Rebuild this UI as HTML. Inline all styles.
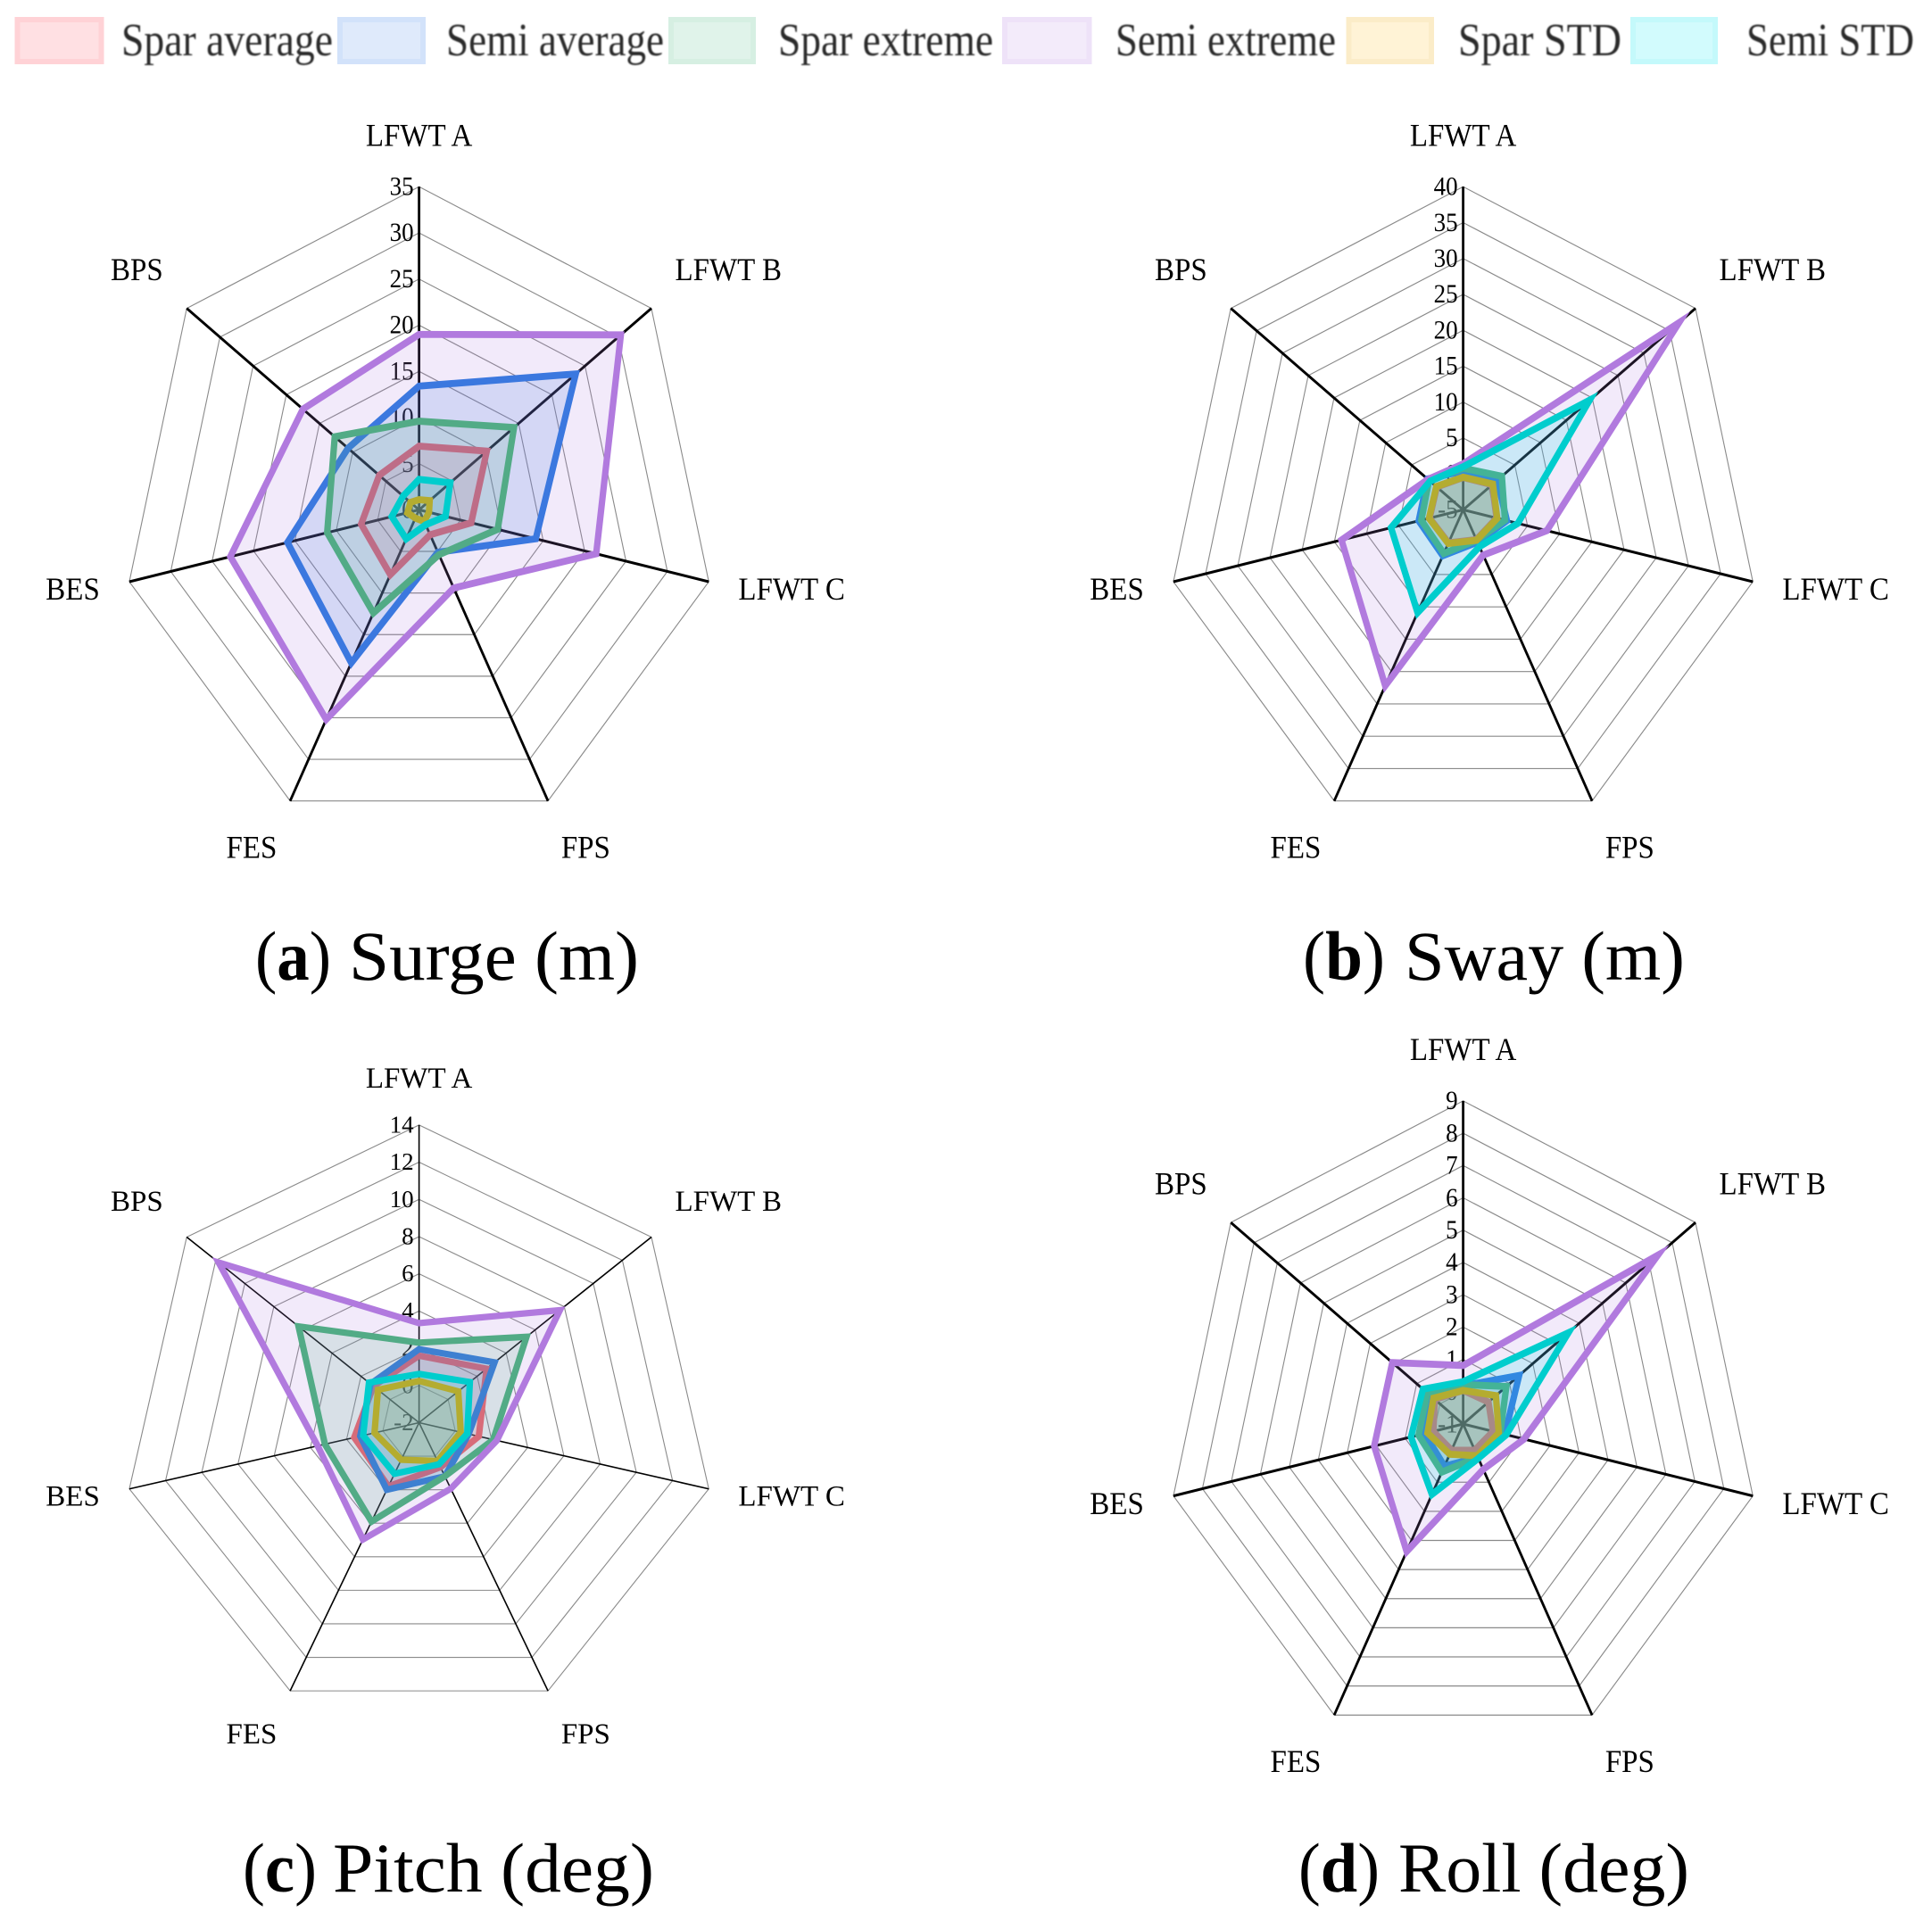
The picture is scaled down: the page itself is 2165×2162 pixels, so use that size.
<!DOCTYPE html>
<html lang="en">
<head>
<meta charset="utf-8">
<title>Radar charts of surge, sway, pitch and roll</title>
<style>
html,body{margin:0;padding:0;background:#fff;}
body{width:2165px;height:2162px;overflow:hidden;}
svg{display:block;font-family:"Liberation Serif",serif;}
.legend-text{font-size:52px;fill:#2a2a2a;filter:url(#soft);}
.caption{font-size:78px;fill:#000;}
</style>
</head>
<body>
<svg id="root" xmlns="http://www.w3.org/2000/svg" width="2165" height="2162" viewBox="0 0 2165 2162">
<defs><filter id="soft" x="-5%" y="-20%" width="110%" height="140%"><feGaussianBlur stdDeviation="0.7"/></filter></defs>
<g>
  <g>
    <rect x="19.5" y="22" width="94" height="47" fill="#ffe0e3" stroke="#ffd2d6" stroke-width="6"/>
    <text class="legend-text" x="136" y="62" textLength="237" lengthAdjust="spacingAndGlyphs">Spar average</text>
  </g>
  <g>
    <rect x="381" y="22" width="93" height="47" fill="#dfeafb" stroke="#d2e2fa" stroke-width="6"/>
    <text class="legend-text" x="500" y="62" textLength="244" lengthAdjust="spacingAndGlyphs">Semi average</text>
  </g>
  <g>
    <rect x="752" y="22" width="92" height="47" fill="#e0f3ea" stroke="#d6efe2" stroke-width="6"/>
    <text class="legend-text" x="872" y="62" textLength="241" lengthAdjust="spacingAndGlyphs">Spar extreme</text>
  </g>
  <g>
    <rect x="1126" y="22" width="94.5" height="47" fill="#f3ebfa" stroke="#eee2f8" stroke-width="6"/>
    <text class="legend-text" x="1250" y="62" textLength="247" lengthAdjust="spacingAndGlyphs">Semi extreme</text>
  </g>
  <g>
    <rect x="1511.5" y="22" width="92.5" height="47" fill="#fff3d6" stroke="#fbecc8" stroke-width="6"/>
    <text class="legend-text" x="1634" y="62" textLength="183" lengthAdjust="spacingAndGlyphs">Spar STD</text>
  </g>
  <g>
    <rect x="1830" y="22" width="92" height="47" fill="#d2fbfd" stroke="#c4f9fb" stroke-width="6"/>
    <text class="legend-text" x="1957" y="62" textLength="188" lengthAdjust="spacingAndGlyphs">Semi STD</text>
  </g>
</g>
<g id="charts"></g>
<g>
  <text class="caption" x="286" y="1098" textLength="85" lengthAdjust="spacingAndGlyphs">(<tspan font-weight="bold">a</tspan>)</text>
  <text class="caption" x="391" y="1098" textLength="325" lengthAdjust="spacingAndGlyphs">Surge (m)</text>
</g>
<g>
  <text class="caption" x="1460" y="1098" textLength="92" lengthAdjust="spacingAndGlyphs">(<tspan font-weight="bold">b</tspan>)</text>
  <text class="caption" x="1574" y="1098" textLength="314" lengthAdjust="spacingAndGlyphs">Sway (m)</text>
</g>
<g>
  <text class="caption" x="272" y="2120" textLength="83" lengthAdjust="spacingAndGlyphs">(<tspan font-weight="bold">c</tspan>)</text>
  <text class="caption" x="373" y="2120" textLength="360" lengthAdjust="spacingAndGlyphs">Pitch (deg)</text>
</g>
<g>
  <text class="caption" x="1455" y="2120" textLength="91" lengthAdjust="spacingAndGlyphs">(<tspan font-weight="bold">d</tspan>)</text>
  <text class="caption" x="1567" y="2120" textLength="326" lengthAdjust="spacingAndGlyphs">Roll (deg)</text>
</g>
</svg>
<script>
// Shared categories
const categories = ['LFWT A', 'LFWT B', 'LFWT C', 'FPS', 'FES', 'BES', 'BPS'];
const seriesNames = ['Spar average', 'Semi average', 'Spar extreme', 'Semi extreme', 'Spar STD', 'Semi STD'];

// Tick labels (outermost first)
const surgeTicks = [35, 30, 25, 20, 15, 10, 5, 0];
const swayTicks = [40, 35, 30, 25, 20, 15, 10, 5, 0, -5];
const pitchTicks = [14, 12, 10, 8, 6, 4, 2, 0, -2];
const rollTicks = [9, 8, 7, 6, 5, 4, 3, 2, 1, 0, -1];

// Surge (m)
const surgeSparAverage = [6.9, 10.2, 6.3, 3.0, 7.8, 7.0, 6.0];
const surgeSemiAverage = [13.4, 23.6, 14.1, 5.1, 18.4, 15.9, 10.7];
const surgeSparExtreme = [9.6, 14.3, 9.5, 5.4, 12.4, 11.1, 12.7];
const surgeSemiExtreme = [19.0, 30.4, 21.4, 9.4, 25.2, 22.8, 17.5];
const surgeSparStd = [1.1, 1.6, 1.2, 1.4, 1.0, 1.4, 1.3];
const surgeSemiStd = [3.3, 4.7, 3.2, 1.8, 3.5, 3.3, 2.4];

// Sway (m)
const swaySparAverage = [-0.5, 0.6, 0.2, -0.4, 0.1, 0.2, 0.1];
const swaySemiAverage = [0.4, 1.6, 1.8, 0.0, 2.1, 1.9, 1.9];
const swaySparExtreme = [0.8, 2.5, 1.5, -0.3, 1.75, 1.5, 1.6];
const swaySemiExtreme = [1.4, 36.8, 8.0, 2.0, 22.2, 13.9, 1.8];
const swaySparStd = [-0.45, 0.76, 0.3, -0.3, 0.2, 0.3, 0.2];
const swaySemiStd = [1.0, 19.5, 3.5, 0.7, 10.9, 6.2, 1.4];

// Pitch (deg)
const pitchSparAverage = [1.6, 2.65, 1.3, 0.66, 1.8, 1.58, 1.14];
const pitchSemiAverage = [1.95, 3.2, 0.74, 1.2, 2.0, 1.25, 1.34];
const pitchSparExtreme = [2.3, 5.4, 2.1, 1.2, 3.9, 3.2, 6.3];
const pitchSemiExtreme = [3.35, 7.7, 2.3, 1.94, 4.97, 3.6, 11.8];
const pitchSparStd = [0.24, 0.7, 0.3, 0.29, 0.21, 0.46, 0.83];
const pitchSemiStd = [0.62, 1.5, 0.66, 0.48, 1.05, 1.09, 1.45];

// Roll (deg)
const rollSparAverage = [0.04, 0.09, 0.03, -0.1, -0.1, 0.03, 0.22];
const rollSemiAverage = [0.18, 1.41, 0.44, 0.15, 0.45, 0.33, 0.41];
const rollSparExtreme = [0.22, 0.86, 0.28, 0.15, 0.65, 0.54, 0.54];
const rollSemiExtreme = [0.81, 7.38, 1.1, 0.56, 3.38, 2.07, 2.05];
const rollSparStd = [0.04, 0.41, 0.23, 0.09, 0.04, 0.23, 0.28];
const rollSemiStd = [0.31, 3.53, 0.49, 0.18, 1.42, 0.8, 0.73];

const SVG_NS = 'http://www.w3.org/2000/svg';
const RADIUS = 333;
const lineColors = ['rgb(255,90,100)', 'rgb(38,120,223)', 'rgb(65,180,117)', 'rgb(177,122,222)', 'rgb(215,162,13)', 'rgb(0,205,205)'];
const fillColors = ['rgba(255,90,100,.16)', 'rgba(38,120,223,.16)', 'rgba(65,180,117,.16)', 'rgba(177,122,222,.16)', 'rgba(255,188,27,.16)', 'rgba(0,225,235,.16)'];

function make(tag, parent, attrs) {
  const el = document.createElementNS(SVG_NS, tag);
  for (const k in attrs) el.setAttribute(k, attrs[k]);
  parent.appendChild(el);
  return el;
}
function spokeAngle(i) { return i * 2 * Math.PI / categories.length; }
function radial(value, lo, hi) { return RADIUS * (value - lo) / (hi - lo); }
function pointAt(i, r) {
  const a = spokeAngle(i);
  return [r * Math.sin(a), -r * Math.cos(a)];
}
function polyPoints(values, lo, hi) {
  return values.map((v, i) => pointAt(i, radial(v, lo, hi)).map(n => n.toFixed(2)).join(',')).join(' ');
}

function drawChart(key, cx, cy, sy, ticks, seriesList, spokeWidth) {
  const hi = Math.max.apply(null, ticks);
  const lo = Math.min.apply(null, ticks);
  const host = document.getElementById('charts');
  const g = make('g', host, { transform: 'translate(' + cx + ' ' + cy + ') scale(1 ' + sy + ')' });
  
  

  // Rings
  ticks.forEach(function (t) {
    if (t === lo) return;
    const ring = make('polygon', g, { points: polyPoints(categories.map(function () { return t; }), lo, hi), fill: 'none', stroke: '#8a8a8a', 'stroke-width': 1.1 });
    
    
  });

  // Spokes
  categories.forEach(function (c, i) {
    const p = pointAt(i, RADIUS);
    const spoke = make('line', g, { x1: 0, y1: 0, x2: p[0], y2: p[1], stroke: '#000', 'stroke-width': spokeWidth });
    
    
  });

  // Tick labels
  ticks.forEach(function (t) {
    const r = radial(t, lo, hi);
    const tick = make('text', g, { x: -6, y: -r + 8.5, 'text-anchor': 'end', 'font-size': 27, fill: '#000' });
    tick.textContent = String(t);
    
    
  });

  // Category labels
  const labelDy = [-8, -8, 11, 28, 28, 11, -8];
  categories.forEach(function (c, i) {
    const p = pointAt(i, 367);
    const anchor = i === 0 ? 'middle' : (i < 4 ? 'start' : 'end');
    const lab = make('text', g, { x: p[0], y: p[1] + labelDy[i], 'text-anchor': anchor, 'font-size': 33, fill: '#000' });
    lab.textContent = c;
    
    
  });

  // Series
  seriesList.forEach(function (values, s) {
    const poly = make('polygon', g, { points: polyPoints(values, lo, hi), fill: fillColors[s], stroke: lineColors[s], 'stroke-width': 7.2, 'stroke-linejoin': 'miter', 'stroke-miterlimit': 10 });
    
    
  });
}

drawChart('surge', 469.6, 571.4, 1.0875, surgeTicks, [surgeSparAverage, surgeSemiAverage, surgeSparExtreme, surgeSemiExtreme, surgeSparStd, surgeSemiStd], 2.8);
drawChart('sway', 1639.6, 571.4, 1.0875, swayTicks, [swaySparAverage, swaySemiAverage, swaySparExtreme, swaySemiExtreme, swaySparStd, swaySemiStd], 2.8);
drawChart('pitch', 469.6, 1594.5, 1.002, pitchTicks, [pitchSparAverage, pitchSemiAverage, pitchSparExtreme, pitchSemiExtreme, pitchSparStd, pitchSemiStd], 1.6);
drawChart('roll', 1639.6, 1596, 1.0875, rollTicks, [rollSparAverage, rollSemiAverage, rollSparExtreme, rollSemiExtreme, rollSparStd, rollSemiStd], 2.8);
</script>
</body>
</html>
